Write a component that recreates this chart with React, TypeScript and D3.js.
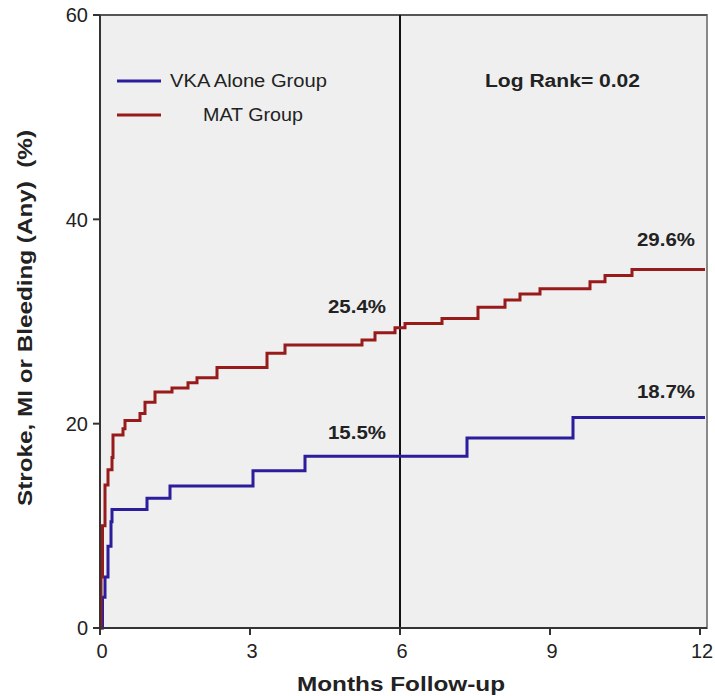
import React from "react";
import * as d3 from "d3";

// Kaplan-Meier style cumulative event curves (months, %)
const vkaMonths = [0, 0.05, 0.1, 0.16, 0.22, 0.24, 0.94, 1.4, 3.06, 4.1, 7.34, 9.46, 12.1];
const vkaValues = [0, 3, 5, 8, 10.4, 11.6, 12.7, 13.9, 15.4, 16.8, 18.6, 20.6, 20.6];

const matMonths = [
  0, 0.02, 0.05, 0.1, 0.16, 0.24, 0.26, 0.46, 0.5, 0.8, 0.9, 1.1, 1.44, 1.76, 1.94,
  2.34, 3.34, 3.7, 5.24, 5.5, 5.9, 6.1, 6.84, 7.56, 8.1, 8.4, 8.8, 9.8, 10.1, 10.64, 12.1,
];
const matValues = [
  0, 5, 10, 14, 15.5, 16.7, 18.9, 19.5, 20.3, 21, 22.1, 23.1, 23.5, 24, 24.5,
  25.5, 26.9, 27.7, 28.2, 28.9, 29.4, 29.8, 30.3, 31.4, 32.1, 32.7, 33.2, 33.9, 34.5, 35.1, 35.1,
];

const xTicks = [0, 3, 6, 9, 12];
const yTicks = [0, 20, 40, 60];

const annotations = [
  { label: "25.4%", month: 5.14, value: 30.8 },
  { label: "15.5%", month: 5.14, value: 18.5 },
  { label: "29.6%", month: 11.32, value: 37.4 },
  { label: "18.7%", month: 11.32, value: 22.5 },
];

const legendItems = [
  { label: "VKA Alone Group", color: "#2b1d9c", tx: 170, len: 157 },
  { label: "MAT Group", color: "#981b1b", tx: 203, len: 100 },
];

const font = "'Liberation Sans', Arial, sans-serif";

export default function App() {
  const width = 715;
  const height = 696;
  const left = 100;
  const right = 707;
  const top = 15;
  const bottom = 628;

  const x = d3.scaleLinear().domain([0, 12]).range([left, 700]);
  const y = d3.scaleLinear().domain([0, 60]).range([bottom, top]);

  const line = d3
    .line<[number, number]>()
    .x((d) => x(d[0]))
    .y((d) => y(d[1]))
    .curve(d3.curveStepAfter);

  const vka = vkaMonths.map((m, i) => [m, vkaValues[i]] as [number, number]);
  const mat = matMonths.map((m, i) => [m, matValues[i]] as [number, number]);

  return (
    <svg width={width} height={height} style={{ display: "block", position: "absolute", left: 0, top: 0 }}>
      <rect x={0} y={0} width={width} height={height} fill="#ffffff" />
      <rect x={left} y={top} width={right - left} height={bottom - top} fill="#efefef" stroke="#888" strokeWidth={2} />
      <line x1={left} x2={right} y1={top} y2={top} stroke="#555" strokeWidth={2} />

      {/* vertical reference at 6 months */}
      <line x1={x(6)} x2={x(6)} y1={top} y2={bottom} stroke="#111" strokeWidth={2} />

      <path d={line(vka) || ""} fill="none" stroke={legendItems[0].color} strokeWidth={3} />
      <path d={line(mat) || ""} fill="none" stroke={legendItems[1].color} strokeWidth={3} />

      {/* axes */}
      <line x1={left} x2={left} y1={top} y2={bottom} stroke="#333" strokeWidth={2} />
      <line x1={left} x2={right} y1={bottom} y2={bottom} stroke="#333" strokeWidth={2} />
      {yTicks.map((t) => (
        <g key={"y" + t}>
          <line x1={left - 7} x2={left} y1={y(t)} y2={y(t)} stroke="#333" strokeWidth={2} />
          <text x={left - 12} y={y(t)} dy="0.36em" textAnchor="end" fontFamily={font} fontSize={20} fill="#222">
            {t}
          </text>
        </g>
      ))}
      {xTicks.map((t) => (
        <g key={"x" + t}>
          <line x1={x(t)} x2={x(t)} y1={bottom} y2={bottom + 7} stroke="#333" strokeWidth={2} />
          <text x={x(t) + 2} y={bottom + 30} textAnchor="middle" fontFamily={font} fontSize={20} fill="#222">
            {t}
          </text>
        </g>
      ))}

      <text
        x={401}
        y={691}
        textAnchor="middle"
        fontFamily={font}
        fontSize={21}
        fontWeight="bold"
        fill="#222"
        textLength={208}
        lengthAdjust="spacingAndGlyphs"
      >
        Months Follow-up
      </text>
      <text
        transform={`translate(32,318) rotate(-90)`}
        textAnchor="middle"
        fontFamily={font}
        fontSize={20}
        fontWeight="bold"
        fill="#222"
        textLength={376}
        lengthAdjust="spacingAndGlyphs"
        style={{ whiteSpace: "pre" }}
      >
        {"Stroke, MI or Bleeding (Any)  (%)"}
      </text>

      {/* legend */}
      {legendItems.map((item, i) => (
        <g key={item.label}>
          <line x1={117} x2={161} y1={81 + i * 34} y2={81 + i * 34} stroke={item.color} strokeWidth={3} />
          <text
            x={item.tx}
            y={81 + i * 34}
            dy="0.36em"
            fontFamily={font}
            fontSize={18}
            fill="#222"
            textLength={item.len}
            lengthAdjust="spacingAndGlyphs"
          >
            {item.label}
          </text>
        </g>
      ))}

      <text
        x={485}
        y={87}
        fontFamily={font}
        fontSize={18}
        fontWeight="bold"
        fill="#222"
        textLength={155}
        lengthAdjust="spacingAndGlyphs"
      >
        Log Rank= 0.02
      </text>

      {annotations.map((a) => (
        <text
          key={a.label}
          x={x(a.month)}
          y={y(a.value)}
          textAnchor="middle"
          fontFamily={font}
          fontSize={18}
          fontWeight="bold"
          fill="#222"
          textLength={58}
          lengthAdjust="spacingAndGlyphs"
        >
          {a.label}
        </text>
      ))}
    </svg>
  );
}
